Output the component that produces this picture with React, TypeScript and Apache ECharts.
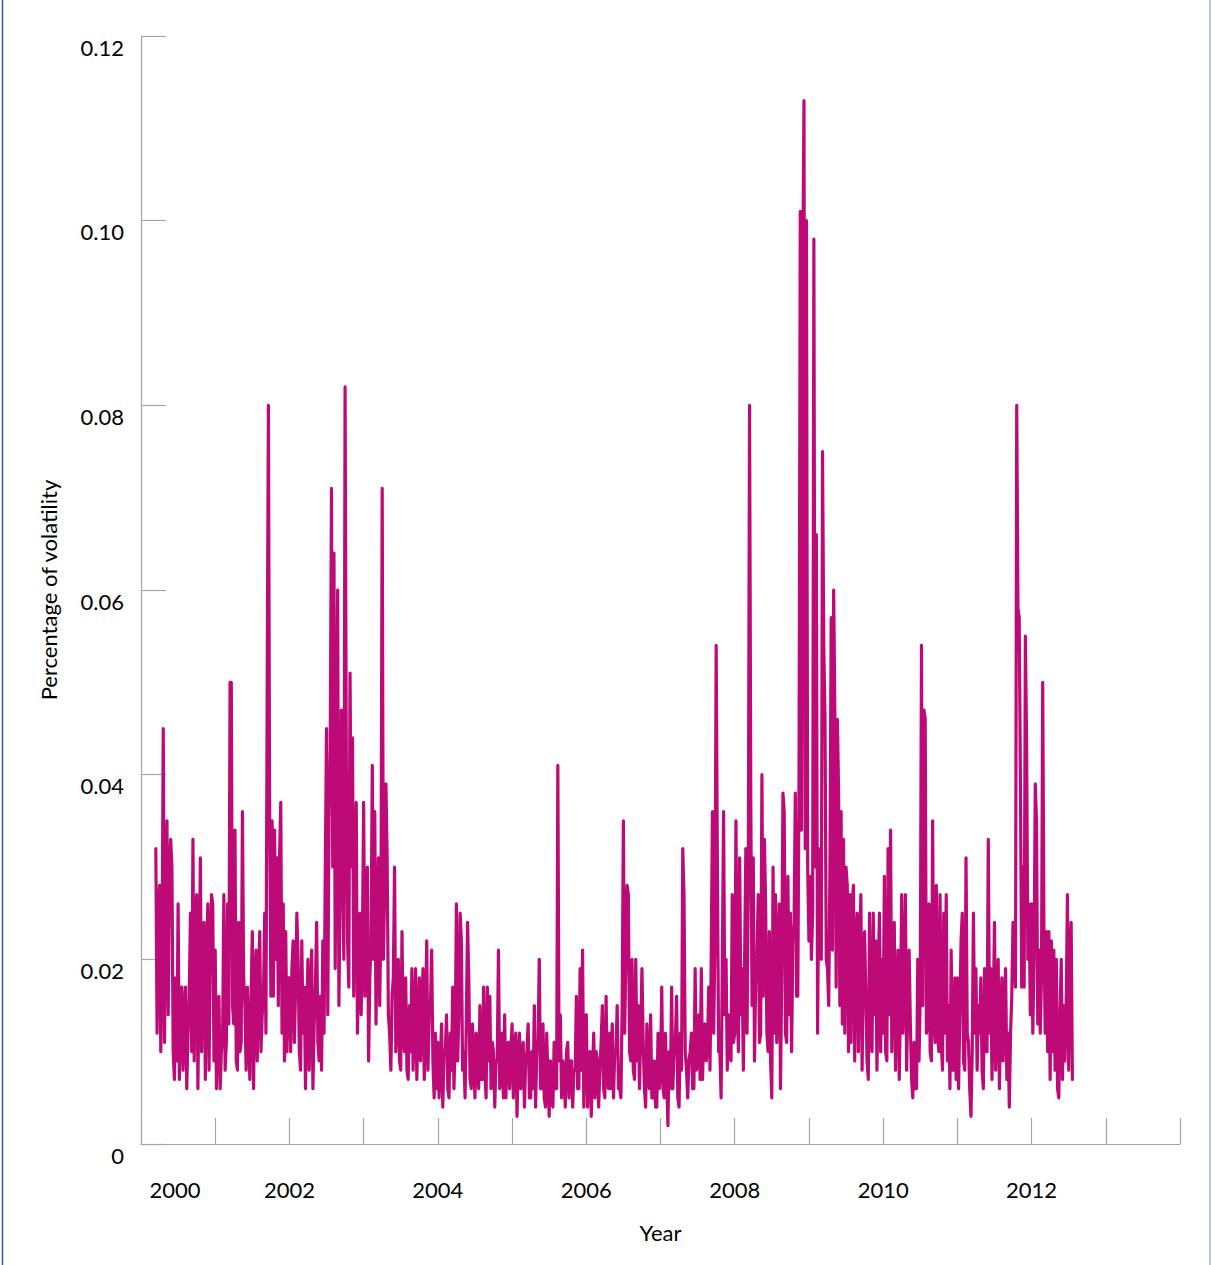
import React, { useEffect, useRef } from "react";
import * as echarts from "echarts";

// Years covered by the series; each full year holds 60 evenly spaced readings
const years = [2000, 2001, 2002, 2003, 2004, 2005, 2006, 2007, 2008, 2009, 2010, 2011, 2012];
const pointsPerYear = 60;

// Volatility readings per year
const vol2000 = [0.032, 0.012, 0.024, 0.028, 0.010, 0.020, 0.045, 0.011, 0.026, 0.035, 0.014, 0.030, 0.033, 0.030, 0.010, 0.007, 0.018, 0.009, 0.026, 0.007, 0.015, 0.017, 0.008, 0.014, 0.017, 0.006, 0.012, 0.016, 0.025, 0.010, 0.033, 0.009, 0.022, 0.027, 0.006, 0.018, 0.031, 0.010, 0.022, 0.024, 0.007, 0.019, 0.026, 0.008, 0.021, 0.027, 0.026, 0.009];
const vol2001 = [0.021, 0.006, 0.014, 0.016, 0.006, 0.010, 0.012, 0.027, 0.008, 0.011, 0.026, 0.013, 0.050, 0.050, 0.015, 0.013, 0.034, 0.009, 0.008, 0.024, 0.010, 0.011, 0.036, 0.018, 0.015, 0.008, 0.017, 0.012, 0.007, 0.016, 0.023, 0.006, 0.017, 0.021, 0.009, 0.018, 0.023, 0.010, 0.014, 0.016, 0.025, 0.012, 0.049, 0.080, 0.036, 0.016, 0.035, 0.016, 0.034, 0.020, 0.031, 0.015, 0.031, 0.037, 0.012, 0.026, 0.009, 0.023, 0.010, 0.018];
const vol2002 = [0.018, 0.010, 0.019, 0.022, 0.011, 0.017, 0.025, 0.020, 0.010, 0.008, 0.022, 0.012, 0.017, 0.006, 0.014, 0.020, 0.008, 0.015, 0.021, 0.006, 0.013, 0.017, 0.024, 0.011, 0.009, 0.016, 0.008, 0.022, 0.012, 0.030, 0.045, 0.014, 0.035, 0.043, 0.071, 0.030, 0.064, 0.019, 0.040, 0.060, 0.015, 0.028, 0.047, 0.030, 0.020, 0.082, 0.041, 0.022, 0.017, 0.051, 0.030, 0.044, 0.016, 0.030, 0.037, 0.012, 0.020, 0.025, 0.014, 0.022];
const vol2003 = [0.037, 0.016, 0.026, 0.030, 0.009, 0.018, 0.022, 0.041, 0.020, 0.036, 0.013, 0.024, 0.031, 0.015, 0.025, 0.071, 0.020, 0.028, 0.039, 0.031, 0.014, 0.012, 0.008, 0.016, 0.018, 0.030, 0.010, 0.013, 0.020, 0.009, 0.008, 0.023, 0.012, 0.010, 0.018, 0.008, 0.007, 0.015, 0.010, 0.019, 0.008, 0.014, 0.019, 0.007, 0.013, 0.018, 0.009, 0.015, 0.019, 0.007, 0.012, 0.022, 0.008, 0.014, 0.015, 0.021, 0.009, 0.005, 0.012, 0.006];
const vol2004 = [0.011, 0.005, 0.009, 0.013, 0.004, 0.010, 0.010, 0.014, 0.006, 0.005, 0.012, 0.008, 0.017, 0.006, 0.011, 0.026, 0.009, 0.014, 0.025, 0.022, 0.008, 0.010, 0.005, 0.013, 0.024, 0.018, 0.007, 0.006, 0.013, 0.009, 0.005, 0.012, 0.008, 0.006, 0.015, 0.007, 0.007, 0.017, 0.008, 0.005, 0.017, 0.009, 0.016, 0.006, 0.011, 0.010, 0.004, 0.009, 0.009, 0.021, 0.006, 0.007, 0.012, 0.005, 0.014, 0.005, 0.010, 0.011, 0.006, 0.010];
const vol2005 = [0.013, 0.005, 0.010, 0.012, 0.003, 0.009, 0.012, 0.006, 0.010, 0.011, 0.004, 0.009, 0.010, 0.013, 0.005, 0.005, 0.010, 0.006, 0.015, 0.004, 0.010, 0.011, 0.020, 0.006, 0.006, 0.013, 0.005, 0.004, 0.012, 0.007, 0.003, 0.009, 0.005, 0.004, 0.011, 0.006, 0.006, 0.041, 0.009, 0.014, 0.005, 0.009, 0.008, 0.004, 0.010, 0.011, 0.005, 0.009, 0.009, 0.004, 0.008, 0.008, 0.016, 0.006, 0.006, 0.019, 0.008, 0.021, 0.004, 0.013];
const vol2006 = [0.014, 0.004, 0.009, 0.010, 0.003, 0.008, 0.012, 0.005, 0.010, 0.009, 0.004, 0.008, 0.011, 0.015, 0.006, 0.005, 0.016, 0.007, 0.006, 0.012, 0.006, 0.013, 0.005, 0.010, 0.010, 0.015, 0.006, 0.006, 0.005, 0.015, 0.035, 0.012, 0.020, 0.028, 0.027, 0.010, 0.009, 0.020, 0.008, 0.007, 0.020, 0.009, 0.015, 0.006, 0.012, 0.019, 0.011, 0.006, 0.004, 0.013, 0.007, 0.006, 0.014, 0.005, 0.005, 0.009, 0.004, 0.004, 0.012, 0.006];
const vol2007 = [0.008, 0.017, 0.006, 0.005, 0.012, 0.007, 0.002, 0.010, 0.006, 0.017, 0.006, 0.010, 0.011, 0.016, 0.005, 0.004, 0.012, 0.008, 0.032, 0.027, 0.010, 0.008, 0.005, 0.009, 0.010, 0.012, 0.006, 0.006, 0.019, 0.008, 0.009, 0.014, 0.007, 0.019, 0.007, 0.012, 0.013, 0.009, 0.011, 0.017, 0.008, 0.020, 0.036, 0.012, 0.022, 0.054, 0.030, 0.010, 0.010, 0.005, 0.020, 0.036, 0.014, 0.020, 0.008, 0.014, 0.010, 0.009, 0.027, 0.011];
const vol2008 = [0.012, 0.035, 0.015, 0.010, 0.031, 0.014, 0.019, 0.008, 0.020, 0.032, 0.012, 0.030, 0.080, 0.037, 0.015, 0.031, 0.009, 0.018, 0.020, 0.027, 0.011, 0.012, 0.040, 0.016, 0.033, 0.026, 0.012, 0.010, 0.023, 0.009, 0.005, 0.030, 0.012, 0.027, 0.011, 0.020, 0.026, 0.006, 0.018, 0.038, 0.036, 0.012, 0.011, 0.029, 0.014, 0.025, 0.010, 0.022, 0.024, 0.038, 0.016, 0.016, 0.040, 0.101, 0.034, 0.094, 0.113, 0.032, 0.100, 0.030];
const vol2009 = [0.022, 0.029, 0.020, 0.025, 0.098, 0.030, 0.066, 0.012, 0.030, 0.032, 0.020, 0.075, 0.054, 0.046, 0.020, 0.019, 0.015, 0.030, 0.057, 0.021, 0.060, 0.046, 0.017, 0.046, 0.038, 0.015, 0.036, 0.013, 0.033, 0.012, 0.030, 0.028, 0.010, 0.027, 0.011, 0.026, 0.028, 0.009, 0.022, 0.025, 0.010, 0.021, 0.027, 0.008, 0.020, 0.023, 0.016, 0.009, 0.007, 0.025, 0.012, 0.010, 0.025, 0.014, 0.022, 0.008, 0.018, 0.025, 0.010, 0.020];
const vol2010 = [0.012, 0.029, 0.010, 0.009, 0.032, 0.014, 0.034, 0.010, 0.018, 0.024, 0.008, 0.016, 0.021, 0.007, 0.015, 0.027, 0.012, 0.018, 0.027, 0.008, 0.016, 0.021, 0.013, 0.007, 0.005, 0.011, 0.006, 0.006, 0.020, 0.009, 0.016, 0.054, 0.015, 0.047, 0.046, 0.012, 0.013, 0.026, 0.010, 0.009, 0.035, 0.014, 0.011, 0.028, 0.012, 0.010, 0.027, 0.011, 0.008, 0.025, 0.012, 0.027, 0.009, 0.015, 0.006, 0.021, 0.008, 0.008, 0.018, 0.007];
const vol2011 = [0.018, 0.006, 0.014, 0.022, 0.025, 0.009, 0.008, 0.031, 0.012, 0.011, 0.006, 0.003, 0.010, 0.025, 0.012, 0.019, 0.008, 0.015, 0.012, 0.018, 0.008, 0.006, 0.019, 0.010, 0.010, 0.033, 0.012, 0.019, 0.007, 0.014, 0.024, 0.008, 0.016, 0.020, 0.006, 0.014, 0.018, 0.009, 0.015, 0.019, 0.007, 0.012, 0.004, 0.012, 0.016, 0.024, 0.020, 0.017, 0.080, 0.058, 0.057, 0.039, 0.017, 0.030, 0.017, 0.055, 0.043, 0.020, 0.026, 0.014];
const vol2012 = [0.026, 0.012, 0.020, 0.039, 0.035, 0.013, 0.021, 0.012, 0.018, 0.050, 0.023, 0.012, 0.023, 0.010, 0.023, 0.007, 0.022, 0.010, 0.021, 0.008, 0.020, 0.006, 0.005, 0.014, 0.020, 0.007, 0.015, 0.009, 0.015, 0.027, 0.008, 0.020, 0.024, 0.007];

const volByYear = [vol2000, vol2001, vol2002, vol2003, vol2004, vol2005, vol2006, vol2007, vol2008, vol2009, vol2010, vol2011, vol2012];

// Axis ranges / ticks
const xMin = 2000;
const xMax = 2014;
const xLabelYears = [2000, 2002, 2004, 2006, 2008, 2010, 2012];
const yMin = 0;
const yMax = 0.12;
const yInterval = 0.02;

const FONT = "Lato";
const LINE_COLOR = "#BD0A77";
const AXIS_COLOR = "#a6a6a6";

function buildSeries(): [number, number][] {
  const out: [number, number][] = [];
  years.forEach((yr, k) => {
    const arr = volByYear[k];
    // the first year starts part-way through; the last stops part-way
    const offset = k === 0 ? pointsPerYear - arr.length : 0;
    arr.forEach((v, j) => {
      out.push([yr + (offset + j) / pointsPerYear, v]);
    });
  });
  return out;
}

export default function App() {
  const ref = useRef<HTMLDivElement>(null);

  useEffect(() => {
    if (!ref.current) return;
    const chart = echarts.init(ref.current, undefined, { renderer: "svg" });
    const data = buildSeries();

    chart.setOption({
      animation: false,
      backgroundColor: "#ffffff",
      grid: {
        left: 141,
        right: 32,
        top: 36,
        bottom: 121,
        containLabel: false,
        outerBoundsMode: "none",
      },
      xAxis: {
        type: "value",
        min: xMin,
        max: xMax,
        interval: 1,
        name: "Year",
        nameLocation: "middle",
        nameGap: 77,
        nameTextStyle: { fontFamily: FONT, fontSize: 22, color: "#000" },
        axisLine: { show: true, lineStyle: { color: AXIS_COLOR, width: 1.2 } },
        axisTick: { show: true, inside: true, length: 26, lineStyle: { color: AXIS_COLOR, width: 1.2 } },
        splitLine: { show: false },
        axisLabel: {
          margin: 34,
          fontFamily: FONT,
          fontSize: 22,
          color: "#000",
          formatter: (v: number) => {
            const y = Math.round(v);
            if (!xLabelYears.includes(y)) return "";
            if (y === xLabelYears[0]) return "{first|" + y + "}";
            return String(y);
          },
          rich: {
            first: {
              fontFamily: FONT,
              fontSize: 22,
              color: "#000",
              padding: [0, 0, 0, 68],
            },
          },
        },
      },
      yAxis: {
        type: "value",
        min: yMin,
        max: yMax,
        interval: yInterval,
        name: "Percentage of volatility",
        nameLocation: "middle",
        nameGap: 82,
        nameTextStyle: { fontFamily: FONT, fontSize: 22, color: "#000" },
        axisLine: { show: true, lineStyle: { color: AXIS_COLOR, width: 1.2 } },
        axisTick: { show: true, inside: true, length: 25, lineStyle: { color: AXIS_COLOR, width: 1.2 } },
        splitLine: { show: false },
        axisLabel: {
          margin: 17,
          fontFamily: FONT,
          fontSize: 22,
          color: "#000",
          verticalAlign: "top",
          formatter: (v: number) => (Math.abs(v) < 1e-9 ? "0" : v.toFixed(2)),
        },
      },
      graphic: [
        {
          type: "line",
          silent: true,
          shape: { x1: 2.5, y1: 0, x2: 2.5, y2: 1265 },
          style: { stroke: "#3b5ba8", lineWidth: 1.5 },
        },
        {
          type: "line",
          silent: true,
          shape: { x1: 1210, y1: 0, x2: 1210, y2: 1265 },
          style: { stroke: "#8fa0c8", lineWidth: 1.2 },
        },
      ],
      series: [
        {
          type: "line",
          data,
          showSymbol: false,
          symbol: "none",
          lineStyle: { color: LINE_COLOR, width: 3.2, join: "round", cap: "round" },
          itemStyle: { color: LINE_COLOR },
          z: 3,
        },
      ],
    });

    return () => {
      chart.dispose();
    };
  }, []);

  return (
    <div
      ref={ref}
      style={{ position: "absolute", left: 0, top: 0, width: 1212, height: 1265 }}
    />
  );
}
